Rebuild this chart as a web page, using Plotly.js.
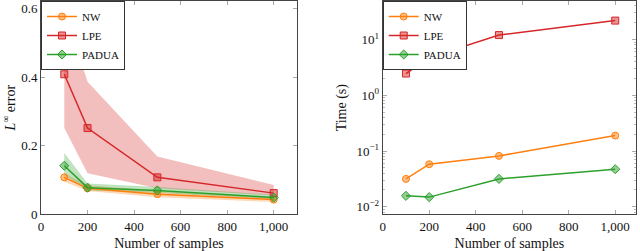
<!DOCTYPE html>
<html><head><meta charset="utf-8">
<script src="https://cdn.plot.ly/plotly-3.0.1.min.js"></script>
<style>html,body{margin:0;padding:0;background:#fff}#c{width:640px;height:251px}</style>
</head><body><div id="c"></div>
<script>
const samples = [100, 200, 500, 1000];
// Left: L-infinity error (mean and band)
const errNW = [0.108, 0.076, 0.059, 0.043];
const errNWLo = [0.095, 0.068, 0.050, 0.036];
const errNWHi = [0.120, 0.085, 0.068, 0.050];
const errLPE = [0.409, 0.252, 0.108, 0.062];
const errLPELo = [0.252, 0.120, 0.076, 0.055];
const errLPEHi = [0.600, 0.387, 0.169, 0.086];
const errPAD = [0.142, 0.078, 0.070, 0.049];
const errPADLo = [0.115, 0.070, 0.062, 0.045];
const errPADHi = [0.179, 0.090, 0.080, 0.057];
// Right: time (s)
const timeNW = [0.0316, 0.058, 0.0817, 0.189];
const timeLPE = [2.45, 4.74, 12.0, 21.8];
const timePAD = [0.0157, 0.0149, 0.0316, 0.0472];
const names = ['NW', 'LPE', 'PADUA'];
const xTickVals = [0, 200, 400, 600, 800, 1000];
const xTickText = ['0', '200', '400', '600', '800', '1,000'];
const yTickVals = [0, 0.2, 0.4, 0.6];
const yTickText = ['0', '0.2', '0.4', '0.6'];
const logTickVals = [0.01, 0.1, 1, 10];
const logTickText = ['10<sup>−2</sup>', '10<sup>−1</sup>', '10<sup>0</sup>', '10<sup>1</sup>'];

const cols = ['#ff7f0e', '#d62728', '#2ca02c'];
const fills = ['rgba(255,127,14,0.5)', 'rgba(214,39,40,0.5)', 'rgba(44,160,44,0.5)'];
const bandFills = ['rgba(255,127,14,0.3)', 'rgba(214,39,40,0.3)', 'rgba(44,160,44,0.3)'];
const syms = ['circle', 'square', 'diamond'];
const sizes = [7, 7, 7];

function band(lo, hi, i) {
  return {x: samples.concat(samples.slice().reverse()), y: hi.concat(lo.slice().reverse()),
    type: 'scatter', mode: 'lines', fill: 'toself', fillcolor: bandFills[i],
    line: {width: 0, color: 'rgba(0,0,0,0)'}, hoverinfo: 'skip', showlegend: false,
    xaxis: 'x', yaxis: 'y'};
}
function line(y, i, ax, leg) {
  return {x: samples, y: y, type: 'scatter', mode: 'lines+markers', name: names[i],
    line: {color: cols[i], width: 1.5},
    marker: {symbol: syms[i], size: sizes[i], color: fills[i], line: {color: cols[i], width: 1}},
    xaxis: 'x' + ax, yaxis: 'y' + ax, legend: leg, showlegend: true};
}
const data = [
  band(errLPELo, errLPEHi, 1), band(errNWLo, errNWHi, 0), band(errPADLo, errPADHi, 2),
  line(errNW, 0, '', 'legend'), line(errLPE, 1, '', 'legend'), line(errPAD, 2, '', 'legend'),
  line(timeNW, 0, '2', 'legend2'), line(timeLPE, 1, '2', 'legend2'), line(timePAD, 2, '2', 'legend2')
];
const fam = 'Liberation Serif, Times New Roman, serif';
const tickFont = {family: fam, size: 13, color: '#111'};
const titleFont = {family: fam, size: 14, color: '#111'};
const legFont = {family: fam, size: 11, color: '#111'};
const axBase = {showgrid: false, zeroline: false, showline: true, linecolor: '#444', linewidth: 1,
  mirror: 'ticks', ticks: 'inside', ticklen: 4, tickcolor: '#aaa', tickfont: tickFont};
const layout = {
  width: 640, height: 251, margin: {l: 0, r: 0, t: 0, b: 0},
  paper_bgcolor: '#fff', plot_bgcolor: '#fff', font: tickFont,
  xaxis: Object.assign({}, axBase, {domain: [0.0641, 0.464], range: [0, 1100], tickvals: xTickVals,
    ticktext: xTickText, anchor: 'y',
    title: {text: 'Number of samples', font: titleFont, standoff: 8}}),
  yaxis: Object.assign({}, axBase, {domain: [0.146, 0.996], range: [0, 0.623], tickvals: yTickVals,
    ticktext: yTickText, anchor: 'x',
    title: {text: '<i>L</i><sup>∞</sup> error', font: titleFont, standoff: 6}}),
  xaxis2: Object.assign({}, axBase, {domain: [0.598, 0.994], range: [0, 1090], tickvals: xTickVals,
    ticktext: xTickText, anchor: 'y2',
    title: {text: 'Number of samples', font: titleFont, standoff: 8}}),
  yaxis2: Object.assign({}, axBase, {domain: [0.146, 0.996], type: 'log', range: [-2.136, 1.69],
    tickvals: logTickVals, ticktext: logTickText, anchor: 'x2',
    minor: {dtick: 'D1', ticks: 'inside', ticklen: 2, tickcolor: '#bbb', showgrid: false},
    title: {text: 'Time (s)', font: titleFont, standoff: 6}}),
  legend: {x: 0.0641, y: 0.996, xanchor: 'left', yanchor: 'top', bgcolor: '#fff', bordercolor: '#333', borderwidth: 1,
    font: legFont, tracegroupgap: 0, itemwidth: 30},
  legend2: {x: 0.598, y: 0.996, xanchor: 'left', yanchor: 'top', bgcolor: '#fff', bordercolor: '#333', borderwidth: 1,
    font: legFont, tracegroupgap: 0, itemwidth: 30}
};
Plotly.newPlot('c', data, layout, {staticPlot: true});
</script></body></html>
